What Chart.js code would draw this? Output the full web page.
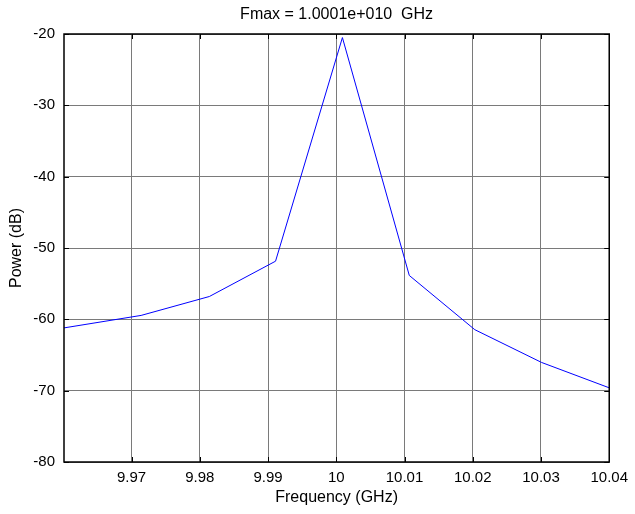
<!DOCTYPE html>
<html>
<head>
<meta charset="utf-8">
<title>Fmax spectrum</title>
<script src="https://cdn.jsdelivr.net/npm/chart.js@4.4.1/dist/chart.umd.min.js"></script>
<style>
  html, body { margin: 0; padding: 0; background: #fff; }
  #wrap { width: 635px; height: 514px; }
</style>
</head>
<body>
<div id="wrap"><canvas id="spectrum" width="635" height="514"></canvas></div>
<script>
// Spectrum samples
const freqGHz = [9.9601, 9.9714, 9.9814, 9.9911, 10.0009, 10.0107, 10.0203, 10.0301, 10.0400];
const powerDb = [-61.2, -59.45, -56.8, -51.85, -20.5, -53.85, -61.45, -66.05, -69.6];

// Tick positions
const xTicks = [9.97, 9.98, 9.99, 10, 10.01, 10.02, 10.03, 10.04];
const yTicks = [-80, -70, -60, -50, -40, -30, -20];

const titleText = 'Fmax = 1.0001e+010  GHz';
const FONT = 'Liberation Sans, Arial, Helvetica, sans-serif';

// title centred over the plot box, not the whole canvas
const plotTitle = {
  id: 'plotTitle',
  afterDraw(chart) {
    const { ctx, chartArea: a } = chart;
    ctx.save();
    ctx.fillStyle = '#000';
    ctx.font = '16px ' + FONT;
    ctx.textAlign = 'center';
    ctx.textBaseline = 'middle';
    ctx.fillText(titleText, (a.left + a.right) / 2, 15);
    ctx.restore();
  }
};

// matlab style inward tick marks on all four sides
const innerTicks = {
  id: 'innerTicks',
  afterDraw(chart) {
    const { ctx, chartArea: a, scales: { x, y } } = chart;
    ctx.save();
    ctx.strokeStyle = '#000';
    ctx.lineWidth = 1;
    ctx.beginPath();
    xTicks.forEach(v => {
      const px = Math.round(x.getPixelForValue(v)) + 0.5;
      ctx.moveTo(px, a.bottom); ctx.lineTo(px, a.bottom - 5);
      ctx.moveTo(px, a.top); ctx.lineTo(px, a.top + 5);
    });
    yTicks.forEach(v => {
      const py = Math.round(y.getPixelForValue(v)) + 0.5;
      ctx.moveTo(a.left, py); ctx.lineTo(a.left + 5, py);
      ctx.moveTo(a.right, py); ctx.lineTo(a.right - 5, py);
    });
    ctx.stroke();
    // box
    ctx.lineWidth = 1.5;
    ctx.strokeRect(a.left, a.top, a.right - a.left, a.bottom - a.top);
    ctx.restore();
  }
};

const points = freqGHz.map((f, i) => ({ x: f, y: powerDb[i] }));

new Chart(document.getElementById('spectrum'), {
  type: 'line',
  data: {
    datasets: [{
      data: points,
      borderColor: '#0000ff',
      borderWidth: 1,
      pointRadius: 0,
      tension: 0,
      fill: false
    }]
  },
  options: {
    responsive: false,
    animation: false,
    layout: { padding: { left: 0, right: 22, top: 34, bottom: 0 } },
    plugins: {
      legend: { display: false },
      tooltip: { enabled: false },
      title: { display: false }
    },
    scales: {
      x: {
        type: 'linear',
        min: 9.9601,
        max: 10.04,
        afterBuildTicks: s => { s.ticks = xTicks.map(v => ({ value: v })); },
        afterFit: s => { s.height = 52; },
        grid: { color: '#7a7a7a', lineWidth: 1, drawTicks: false },
        border: { display: false },
        ticks: {
          color: '#000',
          padding: 7,
          maxRotation: 0,
          font: { family: FONT, size: 15 },
          callback: v => String(v)
        },
        title: {
          display: true,
          text: 'Frequency (GHz)',
          color: '#000',
          font: { family: FONT, size: 16 },
          padding: { top: 2, bottom: 7 }
        }
      },
      y: {
        min: -80,
        max: -20,
        afterBuildTicks: s => { s.ticks = yTicks.map(v => ({ value: v })); },
        afterFit: s => { s.width = 64; },
        grid: { color: '#7a7a7a', lineWidth: 1, drawTicks: false },
        border: { display: false },
        ticks: {
          color: '#000',
          padding: 9,
          font: { family: FONT, size: 15 }
        },
        title: {
          display: true,
          text: 'Power (dB)',
          color: '#000',
          font: { family: FONT, size: 16 },
          padding: { top: 7, bottom: 4 }
        }
      }
    }
  },
  plugins: [innerTicks, plotTitle]
});
</script>
</body>
</html>
